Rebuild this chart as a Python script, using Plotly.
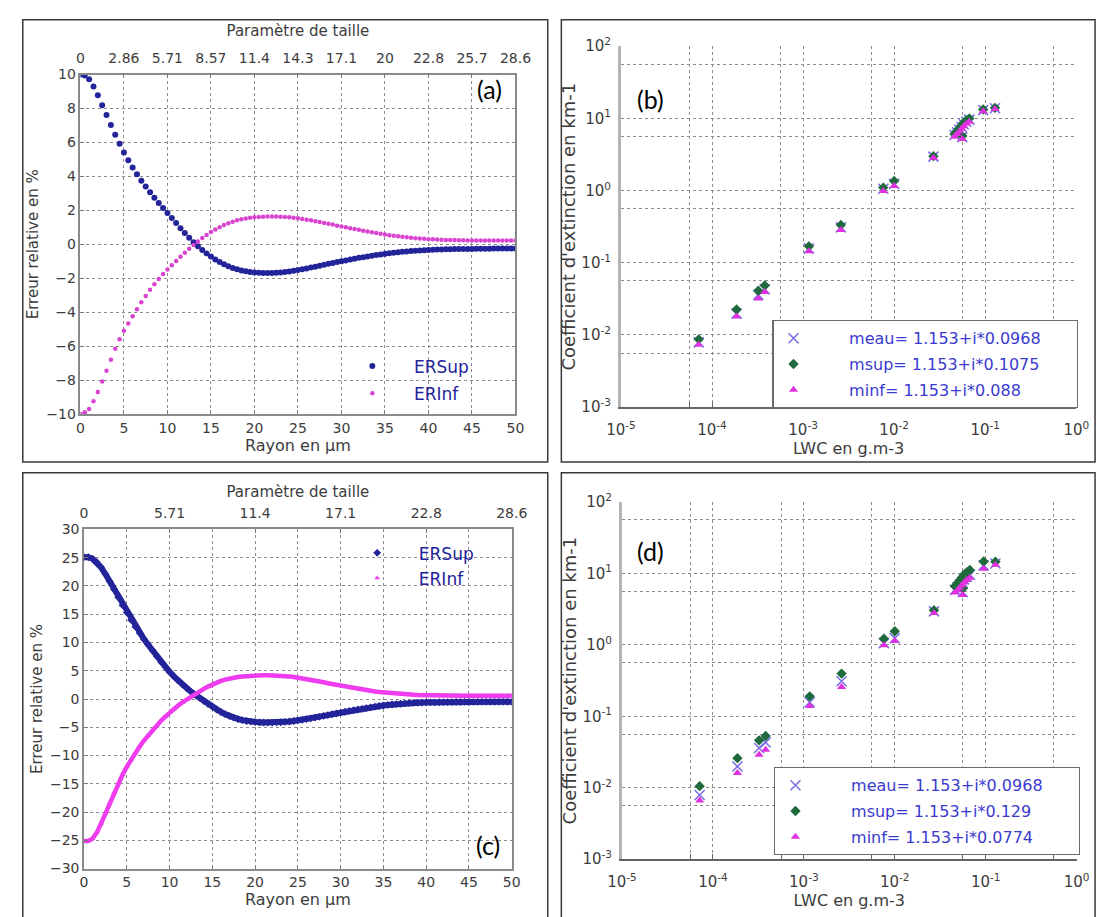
import plotly.graph_objects as go

W, H = 1113, 917


def px(v):
    return v / W


def py(v):
    return 1 - v / H


# ---------------- data: panels (a) and (c) ----------------
radius = [k / 2 for k in range(101)]  # Rayon en µm, step 0.5

a_sup = [
    10.0, 9.95, 9.72, 9.3, 8.78, 8.2, 7.62, 7.03, 6.46, 5.92,
    5.41, 4.95, 4.52, 4.13, 3.75, 3.4, 3.06, 2.74, 2.43, 2.14,
    1.85, 1.55, 1.25, 0.95, 0.66, 0.38, 0.12, -0.12, -0.34, -0.54,
    -0.72, -0.89, -1.04, -1.17, -1.29, -1.39, -1.47, -1.54, -1.59, -1.63,
    -1.66, -1.68, -1.69, -1.69, -1.69, -1.68, -1.66, -1.63, -1.6, -1.56,
    -1.52, -1.47, -1.42, -1.37, -1.32, -1.26, -1.21, -1.15, -1.1, -1.05,
    -1.0, -0.95, -0.9, -0.85, -0.8, -0.76, -0.72, -0.67, -0.63, -0.6,
    -0.56, -0.53, -0.5, -0.47, -0.44, -0.42, -0.4, -0.38, -0.36, -0.35,
    -0.33, -0.32, -0.31, -0.3, -0.29, -0.29, -0.28, -0.28, -0.27, -0.27,
    -0.27, -0.26, -0.26, -0.26, -0.26, -0.25, -0.25, -0.25, -0.25, -0.25,
    -0.25]

a_inf = [
    -10.0, -9.9, -9.7, -9.25, -8.7, -8.08, -7.45, -6.8, -6.15, -5.6,
    -5.1, -4.66, -4.24, -3.82, -3.42, -3.04, -2.68, -2.35, -2.04, -1.75,
    -1.48, -1.23, -0.98, -0.74, -0.5, -0.26, -0.04, 0.17, 0.37, 0.55,
    0.72, 0.87, 1.01, 1.13, 1.24, 1.33, 1.41, 1.47, 1.52, 1.56,
    1.59, 1.61, 1.63, 1.64, 1.64, 1.64, 1.63, 1.61, 1.59, 1.56,
    1.53, 1.49, 1.45, 1.41, 1.36, 1.31, 1.26, 1.21, 1.16, 1.1,
    1.05, 1.0, 0.95, 0.9, 0.85, 0.8, 0.75, 0.71, 0.66, 0.62,
    0.58, 0.54, 0.5, 0.47, 0.44, 0.41, 0.38, 0.36, 0.34, 0.32,
    0.3, 0.29, 0.28, 0.27, 0.26, 0.25, 0.25, 0.24, 0.24, 0.23,
    0.23, 0.23, 0.22, 0.22, 0.22, 0.22, 0.22, 0.22, 0.22, 0.22,
    0.22]

c_sup = [
    25.1, 25.1, 24.8, 24.2, 23.3, 22.1, 20.8, 19.4, 18.0, 16.6,
    15.3, 14.0, 12.8, 11.7, 10.6, 9.6, 8.6, 7.55, 6.55, 5.65,
    4.8, 4.0, 3.25, 2.55, 1.9, 1.3, 0.75, 0.2, -0.35, -0.9,
    -1.4, -1.88, -2.3, -2.68, -3.02, -3.3, -3.54, -3.74, -3.89, -4.0,
    -4.08, -4.13, -4.16, -4.17, -4.17, -4.15, -4.11, -4.05, -3.98, -3.89,
    -3.79, -3.68, -3.56, -3.43, -3.29, -3.15, -3.0, -2.85, -2.7, -2.55,
    -2.4, -2.25, -2.11, -1.98, -1.86, -1.73, -1.6, -1.47, -1.35, -1.24,
    -1.14, -1.05, -0.97, -0.9, -0.84, -0.78, -0.73, -0.69, -0.66, -0.63,
    -0.61, -0.59, -0.58, -0.57, -0.56, -0.55, -0.54, -0.53, -0.53, -0.52,
    -0.52, -0.51, -0.51, -0.5, -0.5, -0.5, -0.5, -0.5, -0.5, -0.5,
    -0.5]

c_inf = [
    -25.1, -25.1, -24.7, -23.6, -22.0, -20.2, -18.4, -16.6, -14.9, -13.4,
    -12.0, -10.7, -9.5, -8.4, -7.35, -6.4, -5.5, -4.65, -3.85, -3.1,
    -2.4, -1.75, -1.15, -0.6, -0.08, 0.4, 0.85, 1.35, 1.8, 2.2,
    2.58, 2.92, 3.2, 3.44, 3.63, 3.78, 3.9, 3.99, 4.06, 4.11,
    4.15, 4.17, 4.19, 4.19, 4.18, 4.16, 4.12, 4.06, 3.99, 3.91,
    3.8, 3.68, 3.55, 3.41, 3.26, 3.11, 2.96, 2.8, 2.65, 2.5,
    2.35, 2.2, 2.06, 1.92, 1.79, 1.66, 1.54, 1.43, 1.33, 1.24,
    1.16, 1.08, 1.01, 0.95, 0.89, 0.84, 0.8, 0.76, 0.73, 0.7,
    0.68, 0.66, 0.64, 0.63, 0.62, 0.61, 0.6, 0.6, 0.59, 0.59,
    0.59, 0.58, 0.58, 0.58, 0.58, 0.58, 0.58, 0.58, 0.58, 0.58,
    0.58]

# tick labels
radius_ticks = [0, 5, 10, 15, 20, 25, 30, 35, 40, 45, 50]
size_param_a = ["0", "2.86", "5.71", "8.57", "11.4", "14.3", "17.1", "20", "22.8", "25.7", "28.6"]
radius_ticks_c_top = [0, 10, 20, 30, 40, 50]
size_param_c = ["0", "5.71", "11.4", "17.1", "22.8", "28.6"]
ticks_a_y = [-10, -8, -6, -4, -2, 0, 2, 4, 6, 8, 10]
ticks_c_y = [-30, -25, -20, -15, -10, -5, 0, 5, 10, 15, 20, 25, 30]

# ---------------- data: panels (b) and (d) ----------------
lwc = [7.15e-5, 1.86e-4, 3.22e-4, 3.8e-4, 1.16e-3, 2.6e-3, 7.6e-3, 0.0100, 0.027,
       0.046, 0.049, 0.052, 0.055, 0.056, 0.058, 0.062, 0.067, 0.095, 0.128]
meau = [7.9e-3, 0.0198, 0.036, 0.043, 0.157, 0.31, 1.06, 1.24, 2.95,
        5.9, 6.4, 7.0, 7.6, 5.5, 8.3, 9.0, 9.6, 13.0, 13.8]
msup_b = [8.7e-3, 0.0225, 0.041, 0.0485, 0.169, 0.335, 1.1, 1.36, 3.0,
          6.1, 6.7, 7.3, 8.0, 5.7, 8.7, 9.4, 10.0, 13.3, 14.0]
minf_b = [7.3e-3, 0.018, 0.032, 0.0395, 0.145, 0.285, 0.99, 1.16, 2.85,
          5.6, 6.1, 6.6, 7.2, 5.2, 7.8, 8.4, 9.0, 12.6, 13.5]
msup_d = [0.0105, 0.0259, 0.046, 0.053, 0.19, 0.396, 1.22, 1.55, 3.05,
          6.6, 7.3, 8.0, 8.8, 6.2, 9.6, 10.4, 11.2, 14.7, 14.6]
minf_d = [6.6e-3, 0.016, 0.029, 0.034, 0.139, 0.258, 0.99, 1.13, 2.8,
          5.4, 5.8, 6.3, 6.9, 5.0, 7.5, 8.1, 8.7, 11.6, 13.2]

names_b = ["meau= 1.153+i*0.0968", "msup= 1.153+i*0.1075", "minf= 1.153+i*0.088"]
names_d = ["meau= 1.153+i*0.0968", "msup= 1.153+i*0.129", "minf= 1.153+i*0.0774"]

decades_x = [1e-5, 1e-4, 1e-3, 1e-2, 1e-1, 1.0]
decade_text_x = ["10<sup>-5</sup>", "10<sup>-4</sup>", "10<sup>-3</sup>",
                 "10<sup>-2</sup>", "10<sup>-1</sup>", "10<sup>0</sup>"]
minor_x = [5.62e-5, 5.62e-4, 5.62e-3, 5.62e-2, 5.62e-1]
decades_y = [1e-3, 1e-2, 1e-1, 1.0, 10, 100]
decade_text_y = ["10<sup>-3</sup>", "10<sup>-2</sup>", "10<sup>-1</sup>",
                 "10<sup>0</sup>", "10<sup>1</sup>", "10<sup>2</sup>"]
minor_y = [5.62e-3, 5.62e-2, 5.62e-1, 5.62, 56.2]

# ---------------- styles ----------------
FONT = "DejaVu Sans"
TXT = "#3c3c3c"
GRID = "#8c8c8c"
BLUE = "#23239a"
NB = "\u00a0"

fig = go.Figure()

# panel (a)
fig.add_trace(go.Scatter(x=radius, y=a_sup, mode="markers", name=NB * 4 + "ERSup",
                         marker=dict(color=BLUE, size=6), xaxis="x", yaxis="y",
                         legend="legend", legendgroup="a1"))
fig.add_trace(go.Scatter(x=radius, y=a_inf, mode="markers", name=NB * 4 + "ERInf",
                         marker=dict(color="#d844d0", size=4.5), xaxis="x2", yaxis="y",
                         legend="legend", legendgroup="a2"))

# panel (c)
fig.add_trace(go.Scatter(x=radius, y=c_sup, mode="lines", showlegend=False,
                         line=dict(color=BLUE, width=6), xaxis="x3", yaxis="y3"))
fig.add_trace(go.Scatter(x=radius, y=c_sup, mode="markers", name=NB * 4 + "ERSup",
                         marker=dict(color=BLUE, size=6, symbol="diamond"),
                         xaxis="x3", yaxis="y3", legend="legend2", legendgroup="c1"))
fig.add_trace(go.Scatter(x=radius, y=c_inf, mode="lines", showlegend=False,
                         line=dict(color="#ee3cee", width=4.5), xaxis="x4", yaxis="y3"))
fig.add_trace(go.Scatter(x=radius, y=c_inf, mode="markers", name=NB * 4 + "ERInf",
                         marker=dict(color="#ee3cee", size=5, symbol="triangle-up"),
                         xaxis="x3", yaxis="y3", legend="legend2", legendgroup="c2"))

# panels (b) and (d)
for (ax, ay, lg, sup, inf, names) in [("x5", "y5", "legend3", msup_b, minf_b, names_b),
                                      ("x6", "y6", "legend4", msup_d, minf_d, names_d)]:
    fig.add_trace(go.Scatter(x=lwc, y=meau, mode="markers", name=NB * 7 + names[0] + NB * 6,
                             marker=dict(symbol="x-thin-open", size=10, color="#7a70e8",
                                         line=dict(color="#7a70e8", width=1.6)),
                             xaxis=ax, yaxis=ay, legend=lg, legendgroup=lg + "1"))
    fig.add_trace(go.Scatter(x=lwc, y=sup, mode="markers", name=NB * 7 + names[1],
                             marker=dict(symbol="diamond", size=8, color="#1e6a3c"),
                             xaxis=ax, yaxis=ay, legend=lg, legendgroup=lg + "2"))
    fig.add_trace(go.Scatter(x=lwc, y=inf, mode="markers", name=NB * 7 + names[2],
                             marker=dict(symbol="triangle-up", size=8, color="#e030e0"),
                             xaxis=ax, yaxis=ay, legend=lg, legendgroup=lg + "3"))

tickfont = dict(family=FONT, size=14, color=TXT)
titlefont = dict(family=FONT, size=15, color=TXT)
xtitlefont = dict(family=FONT, size=16, color=TXT)

lin_common = dict(showgrid=True, gridcolor=GRID, griddash="dot", gridwidth=1,
                  showline=True, linecolor="#8a8a8a", linewidth=1.5,
                  ticks="inside", ticklen=4, tickcolor="#777",
                  tickfont=tickfont, zeroline=False)
top_common = dict(showgrid=False, showline=True, linecolor="#8a8a8a", linewidth=1.5,
                  ticks="inside", ticklen=4, tickcolor="#777", tickfont=tickfont,
                  zeroline=False, range=[0, 50], ticklabelstandoff=4)

layout = dict(
    width=W, height=H, margin=dict(l=0, r=0, t=0, b=0),
    paper_bgcolor="white", plot_bgcolor="white",
    # ---- (a)
    xaxis=dict(domain=[px(67.3), px(514.8)], anchor="y", range=[0, 50],
               tickvals=radius_ticks, mirror=True,
               title=dict(text="Rayon en µm", font=xtitlefont, standoff=2), **lin_common),
    xaxis2=dict(domain=[px(67.3), px(514.8)], anchor="y", overlaying="x", side="top",
                tickvals=radius_ticks, ticktext=size_param_a,
                title=dict(text="Paramètre de taille", font=titlefont, standoff=10), **top_common),
    yaxis=dict(domain=[py(412), py(65)], anchor="x", range=[-10, 10], tickvals=ticks_a_y,
               mirror=True, title=dict(text="Erreur relative en %", font=titlefont, standoff=4),
               **lin_common),
    # ---- (c)
    xaxis3=dict(domain=[px(71), px(511)], anchor="y3", range=[0, 50],
                tickvals=radius_ticks, mirror=True,
                title=dict(text="Rayon en µm", font=xtitlefont, standoff=2), **lin_common),
    xaxis4=dict(domain=[px(71), px(511)], anchor="y3", overlaying="x3", side="top",
                tickvals=radius_ticks_c_top, ticktext=size_param_c,
                title=dict(text="Paramètre de taille", font=titlefont, standoff=4), **top_common),
    yaxis3=dict(domain=[py(876.7), py(530)], anchor="x3", range=[-30, 30], tickvals=ticks_c_y,
                mirror=True, title=dict(text="Erreur relative en %", font=titlefont, standoff=4),
                **lin_common),
)

log_x_common = dict(type="log", range=[-5, 0], tickvals=decades_x, ticktext=decade_text_x,
                    showgrid=True, gridcolor=GRID, griddash="dot", gridwidth=1,
                    minor=dict(tickvals=minor_x, showgrid=True, gridcolor=GRID, griddash="dot",
                               gridwidth=1, ticks="inside", ticklen=5, tickcolor="#666"),
                    showline=True, linecolor="#666", linewidth=1.5,
                    ticks="inside", ticklen=5, tickcolor="#666",
                    tickfont=dict(family=FONT, size=15, color=TXT), zeroline=False,
                    ticklabelstandoff=8)
log_y_common = dict(type="log", range=[-3, 2], tickvals=decades_y, ticktext=decade_text_y,
                    showgrid=True, gridcolor=GRID, griddash="dot", gridwidth=1,
                    minor=dict(tickvals=minor_y, showgrid=True, gridcolor=GRID, griddash="dot",
                               gridwidth=1),
                    showline=True, linecolor="#b4b4b4", linewidth=3,
                    ticks="", tickfont=dict(family=FONT, size=15, color=TXT), zeroline=False,
                    ticklabelstandoff=4)

layout["xaxis5"] = dict(domain=[px(623.3), px(1091.7)], anchor="y5",
                        title=dict(text="LWC en g.m-3", font=xtitlefont, standoff=2),
                        **log_x_common)
layout["yaxis5"] = dict(domain=[py(405), py(36)], anchor="x5",
                        title=dict(text="Coefficient d'extinction en km-1",
                                   font=dict(family=FONT, size=18, color=TXT), standoff=2),
                        **log_y_common)
layout["xaxis6"] = dict(domain=[px(624.4), px(1092)], anchor="y6",
                        title=dict(text="LWC en g.m-3", font=xtitlefont, standoff=2),
                        **log_x_common)
layout["yaxis6"] = dict(domain=[py(867), py(502)], anchor="x6",
                        title=dict(text="Coefficient d'extinction en km-1",
                                   font=dict(family=FONT, size=18, color=TXT), standoff=2),
                        **log_y_common)

# legends
layout["legend"] = dict(x=px(347), y=py(345), xanchor="left", yanchor="top",
                        bgcolor="rgba(0,0,0,0)", borderwidth=0, tracegroupgap=2,
                        font=dict(family=FONT, size=17, color=BLUE))
layout["legend2"] = dict(x=px(352), y=py(536), xanchor="left", yanchor="top",
                         bgcolor="rgba(0,0,0,0)", borderwidth=0, tracegroupgap=0,
                         font=dict(family=FONT, size=17, color=BLUE))
layout["legend3"] = dict(x=px(779), y=py(316), xanchor="left", yanchor="top",
                         bgcolor="white", bordercolor="#6a6a6a", borderwidth=1.2,
                         tracegroupgap=2, font=dict(family=FONT, size=16, color="#3a3ad0"))
layout["legend4"] = dict(x=px(781), y=py(773), xanchor="left", yanchor="top",
                         bgcolor="white", bordercolor="#6a6a6a", borderwidth=1.2,
                         tracegroupgap=2, font=dict(family=FONT, size=16, color="#3a3ad0"))

fig.update_layout(**layout)

# panel frames
frames = [(8, 9, 548, 461), (562, 9, 1111, 461), (8, 472, 548, 930), (562, 472, 1111, 930)]
for (x0, y0, x1, y1) in frames:
    fig.add_shape(type="rect", xref="paper", yref="paper",
                  x0=px(x0), x1=px(x1), y0=py(y1), y1=py(y0),
                  line=dict(color="#3a3a3a", width=1.5), layer="above")

# panel labels
for (lab, lx, ly) in [("(a)", 488, 80), ("(b)", 654, 90), ("(c)", 487, 853), ("(d)", 654, 552)]:
    fig.add_annotation(x=px(lx), y=py(ly), xref="paper", yref="paper", text=lab,
                       xanchor="center", yanchor="middle",
                       showarrow=False, font=dict(family="Lato", size=25, color="black"))

fig.write_html("out.html", config={"displayModeBar": False},
               post_script="document.body.style.margin='0';document.body.style.overflow='hidden';")
